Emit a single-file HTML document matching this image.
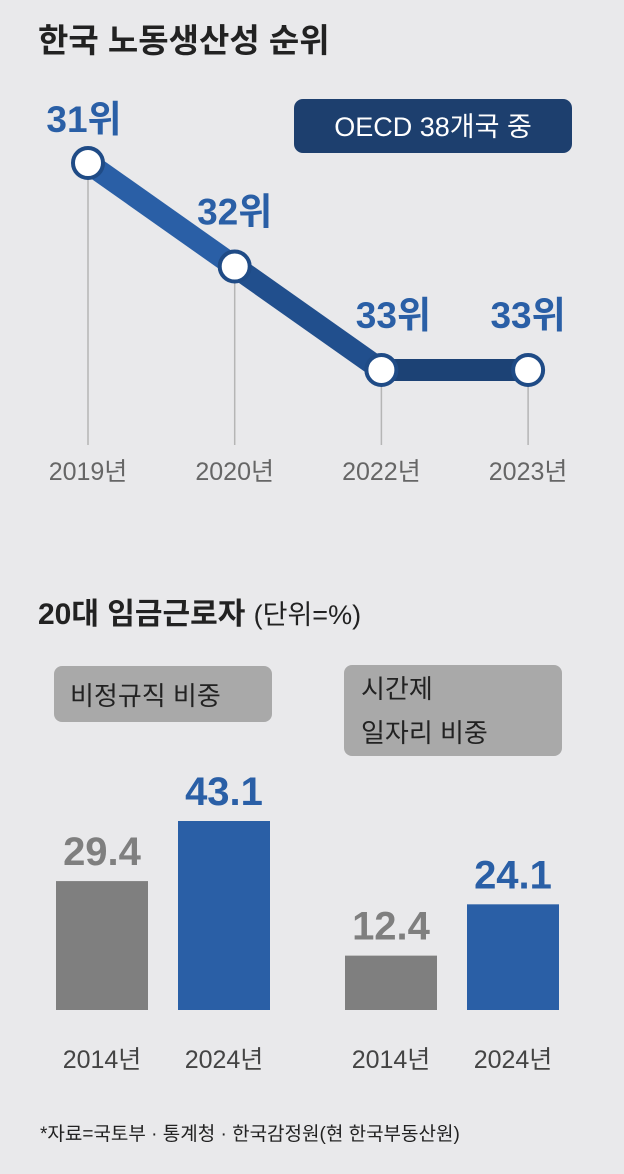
<!DOCTYPE html>
<html><head><meta charset="utf-8"><style>
html,body{margin:0;padding:0;background:#e9e9eb;}
svg{display:block;font-family:"Liberation Sans","Noto Sans CJK KR",sans-serif;}
</style></head><body>
<svg id="c" width="624" height="1174" viewBox="0 0 624 1174" xmlns="http://www.w3.org/2000/svg">
<rect width="624" height="1174" fill="#e9e9eb"/>
<text x="38" y="52" font-size="33" font-weight="bold" fill="#222">한국 노동생산성 순위</text>
<rect x="294" y="99" width="278" height="54" rx="9" fill="#1d3f6e"/>
<text x="433" y="136" font-size="27" text-anchor="middle" fill="#fff">OECD 38개국 중</text>
<g id="line"></g>
<text x="38" y="624" font-size="30" font-weight="bold" fill="#222">20대 임금근로자 <tspan font-weight="normal" font-size="27">(단위=%)</tspan></text>
<rect x="54" y="666" width="218" height="56" rx="8" fill="#a9a9a9"/>
<text x="70" y="705" font-size="26" fill="#222">비정규직 비중</text>
<rect x="344" y="665" width="218" height="91" rx="8" fill="#a9a9a9"/>
<text x="361" y="698" font-size="26" fill="#222">시간제</text>
<text x="361" y="742" font-size="26" fill="#222">일자리 비중</text>
<g id="bars"></g>
<text x="40" y="1140" font-size="19" fill="#222">*자료=국토부 · 통계청 · 한국감정원(현 한국부동산원)</text>
</svg>
<script>
const years = ['2019년','2020년','2022년','2023년'];
const ranks = [31,32,33,33];
const barCats = ['2014년','2024년','2014년','2024년'];
const barVals = [29.4,43.1,12.4,24.1];

const NS='http://www.w3.org/2000/svg';
function mk(t,a,p){const e=document.createElementNS(NS,t);for(const k in a)e.setAttribute(k,a[k]);p.appendChild(e);return e;}
const lx=i=>88+i*146.7;
const ly=r=>163+(r-31)*103.5;
const labelDx=[-4,0,12,0];
const lg=document.getElementById('line');
years.forEach((y,i)=>{
  const l=mk('line',{x1:lx(i),y1:ly(ranks[i]),x2:lx(i),y2:445,stroke:'#b5b5b5','stroke-width':1.5},lg);
  
  
  const t=mk('text',{x:lx(i),y:480,'font-size':25,fill:'#666','text-anchor':'middle'},lg);t.textContent=y;
  
  
});
for(let i=0;i<ranks.length-1;i++){
  const s=mk('line',{x1:lx(i),y1:ly(ranks[i]),x2:lx(i+1),y2:ly(ranks[i+1]),stroke:i==0?'#2a5fa6':(i==1?'#214f8d':'#1c4275'),'stroke-width':22},lg);
  
  
}
ranks.forEach((r,i)=>{
  const c=mk('circle',{cx:lx(i),cy:ly(r),r:15,fill:'#fff',stroke:'#1f4b86','stroke-width':4},lg);
  
  
  const t=mk('text',{x:lx(i)+labelDx[i],y:ly(r)-(i==0?31:42),'font-size':37,'font-weight':'bold',fill:'#2a5fa6','text-anchor':'middle'},lg);t.textContent=r+'위';
  
  
});
const bg=document.getElementById('bars');
const bx=[56,178,345,467],base=1010,k=4.385,bw=92;
barVals.forEach((v,i)=>{
  const blue=i%2==1, col=blue?'#2a5fa6':'#7f7f7f';
  const h=v*k;
  const b=mk('rect',{x:bx[i],y:base-h,width:bw,height:h,fill:col},bg);
  
  
  const t=mk('text',{x:bx[i]+bw/2,y:base-h-16,'font-size':40,'font-weight':'bold',fill:col,'text-anchor':'middle'},bg);t.textContent=v.toFixed(1);
  
  
  const c=mk('text',{x:bx[i]+bw/2,y:1068,'font-size':25,fill:'#444','text-anchor':'middle'},bg);c.textContent=barCats[i];
  
  
});
</script>
</body></html>
